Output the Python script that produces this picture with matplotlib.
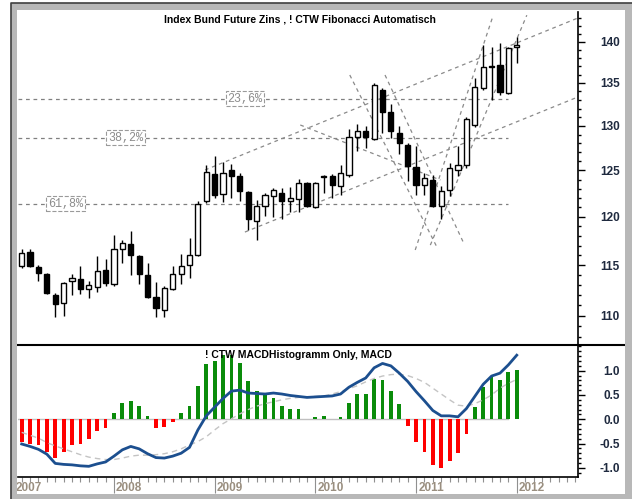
import numpy as np
import matplotlib
matplotlib.use("Agg")
import matplotlib.pyplot as plt
from matplotlib.patches import Rectangle
from matplotlib.lines import Line2D
from matplotlib.ticker import FixedLocator, FuncFormatter, NullFormatter
from matplotlib.transforms import blended_transform_factory

# monthly candles, Jan 2007 .. Dec 2011 (x = month number, candle drawn at month end)
opens = [114.9, 116.3, 114.8, 114.1, 112.05, 111.2, 113.45, 113.6, 112.65, 112.8,
         114.5, 113.15, 116.7, 117.2, 115.9, 114.05, 111.85, 110.6, 112.65, 114.15,
         115.0, 116.0, 121.7, 124.65, 122.4, 125.0, 124.35, 122.65, 119.55, 121.1,
         122.2, 122.55, 121.7, 121.95, 123.6, 121.0, 124.4, 124.35, 123.35, 124.5,
         128.7, 129.45, 128.5, 134.15, 131.6, 129.2, 127.85, 125.35, 123.45, 124.0,
         121.1, 122.9, 125.1, 125.65, 130.1, 134.35, 136.9, 137.15, 133.8, 139.4]
highs = [116.6, 116.7, 115.05, 114.2, 112.2, 113.3, 114.15, 114.9, 113.45, 115.9,
         115.6, 118.05, 117.6, 118.55, 116.0, 115.2, 113.3, 112.95, 114.9, 116.1,
         117.8, 121.7, 125.65, 126.6, 125.95, 125.7, 124.7, 122.8, 121.8, 122.55,
         123.1, 123.1, 123.15, 124.1, 123.7, 123.7, 124.5, 124.6, 125.55, 129.6,
         130.2, 130.0, 135.0, 134.45, 132.55, 130.0, 128.1, 127.75, 124.7, 124.5,
         123.25, 125.85, 127.75, 131.05, 135.55, 139.6, 139.4, 139.8, 139.4, 140.6]
lows = [114.75, 114.8, 113.45, 112.1, 109.85, 110.0, 112.0, 112.1, 111.7, 112.3,
        112.95, 112.95, 115.2, 114.0, 113.15, 111.7, 109.85, 109.85, 112.5, 113.1,
        113.75, 115.9, 121.45, 122.05, 121.55, 122.05, 121.7, 118.65, 117.6, 120.1,
        120.0, 119.8, 120.55, 120.55, 121.0, 120.9, 122.55, 122.05, 122.3, 124.25,
        127.15, 127.5, 128.4, 129.2, 128.65, 126.8, 123.8, 122.3, 122.35, 121.0,
        119.8, 122.2, 124.4, 125.25, 129.9, 134.2, 133.0, 133.55, 133.7, 137.45]
closes = [116.25, 114.9, 114.25, 112.2, 111.15, 113.2, 113.7, 112.65, 113.0, 114.4,
          113.2, 116.6, 117.3, 116.0, 114.15, 111.85, 110.7, 112.75, 114.15, 114.9,
          116.0, 121.35, 124.8, 122.3, 124.7, 124.4, 122.8, 119.75, 121.1, 122.3,
          122.85, 121.65, 122.05, 123.6, 121.1, 123.6, 124.3, 123.45, 124.7, 128.75,
          129.45, 128.75, 134.7, 131.6, 129.45, 128.0, 125.45, 123.45, 124.15, 121.1,
          122.8, 125.25, 125.55, 130.8, 134.5, 136.95, 137.0, 133.95, 139.2, 139.6]

macd_hist = [-0.46, -0.52, -0.53, -0.68, -0.79, -0.67, -0.53, -0.50, -0.41, -0.24,
             -0.17, 0.12, 0.33, 0.38, 0.28, 0.07, -0.17, -0.15, -0.05, 0.12,
             0.28, 0.69, 1.13, 1.20, 1.33, 1.33, 1.15, 0.78, 0.59, 0.50,
             0.43, 0.27, 0.21, 0.21, 0.0, 0.04, 0.06, 0.0, 0.05, 0.34,
             0.53, 0.53, 0.82, 0.80, 0.59, 0.31, -0.14, -0.46, -0.67, -0.94,
             -1.0, -0.85, -0.70, -0.31, 0.26, 0.67, 0.88, 0.80, 0.97, 1.02]
macd_line = [-0.51, -0.56, -0.62, -0.72, -0.91, -0.93, -0.94, -0.96, -0.97, -0.92,
             -0.88, -0.76, -0.63, -0.56, -0.61, -0.71, -0.79, -0.80, -0.76, -0.70,
             -0.58, -0.22, 0.07, 0.25, 0.43, 0.58, 0.60, 0.54, 0.53, 0.52,
             0.54, 0.52, 0.49, 0.47, 0.45, 0.46, 0.47, 0.48, 0.52, 0.66,
             0.76, 0.85, 1.06, 1.15, 1.10, 0.95, 0.78, 0.57, 0.38, 0.18,
             0.07, 0.07, 0.05, 0.22, 0.47, 0.72, 0.89, 0.95, 1.12, 1.32]
macd_signal = [-0.27, -0.33, -0.39, -0.48, -0.55, -0.61, -0.67, -0.73, -0.78, -0.81,
               -0.83, -0.83, -0.80, -0.76, -0.74, -0.74, -0.73, -0.71, -0.67, -0.61,
               -0.53, -0.46, -0.36, -0.22, -0.09, 0.01, 0.11, 0.20, 0.27, 0.32,
               0.36, 0.40, 0.43, 0.45, 0.46, 0.47, 0.48, 0.52, 0.57, 0.63,
               0.69, 0.77, 0.84, 0.89, 0.92, 0.93, 0.90, 0.84, 0.76, 0.64,
               0.52, 0.40, 0.29, 0.27, 0.32, 0.40, 0.50, 0.64, 0.74, 0.82]

years = ["2007", "2008", "2009", "2010", "2011", "2012"]
price_ticks = [110, 115, 120, 125, 130, 135, 140]
macd_ticks = [-1.0, -0.5, 0.0, 0.5, 1.0]

# fibonacci levels and trend lines (month, price)
fib_labels = ["23,6%", "38,2%", "61,8%"]
fib_levels = [133.15, 128.67, 121.4]
fib_label_x = [27.6, 13.4, 6.2]
trend_x0 = [22.85, 27.6, 40.1, 44.3, 34.2, 47.9, 49.7]
trend_y0 = [125.05, 118.4, 135.95, 135.95, 130.1, 116.55, 117.05]
trend_x1 = [67.3, 67.3, 50.6, 53.6, 50.9, 57.2, 61.2]
trend_y1 = [142.95, 133.35, 116.65, 117.4, 123.95, 143.3, 143.3]

W, H = 632, 499
fig = plt.figure(figsize=(W / 100, H / 100), dpi=100, facecolor="white")

def fx(px):
    return px / W

def fy(py):
    return 1 - py / H

x = np.arange(1, len(opens) + 1)
xmin, xmax = 0.56, 67.3

ax = fig.add_axes([fx(18), fy(345), fx(578) - fx(18), fy(12) - fy(345)])
ax2 = fig.add_axes([fx(18), fy(477), fx(578) - fx(18), fy(345) - fy(477)], sharex=ax)

# candles
o = np.array(opens); c = np.array(closes)
up = c >= o
ax.vlines(x, lows, highs, color="black", lw=1, zorder=3)
ax.bar(x[up], (c - o)[up], bottom=o[up], width=0.62, facecolor="white",
       edgecolor="black", lw=1, zorder=4)
ax.bar(x[~up], (o - c)[~up], bottom=c[~up], width=0.62, facecolor="black",
       edgecolor="black", lw=1, zorder=4)

dash = (0, (3, 3))
for lvl, lab, lx in zip(fib_levels, fib_labels, fib_label_x):
    ax.hlines(lvl, xmin, 59, colors="#808080", lw=0.9, linestyles=dash, zorder=2)
    ax.text(lx, lvl, lab, ha="center", va="center", fontsize=8.5,
            family=["Liberation Mono", "DejaVu Sans Mono"], color="#8c8c8c", zorder=5,
            bbox=dict(boxstyle="square,pad=0.15", fc="white", ec="#9a9a9a",
                      ls="--", lw=0.8))
for a0, b0, a1, b1 in zip(trend_x0, trend_y0, trend_x1, trend_y1):
    ax.plot([a0, a1], [b0, b1], color="#8a8a8a", lw=0.9, ls=dash, zorder=2)

ax.set_yscale("log")
ax.set_ylim(107.2, 143.7)
ax.set_xlim(xmin, xmax)
ax.yaxis.tick_right()
ax.yaxis.set_major_locator(FixedLocator(price_ticks))
ax.yaxis.set_minor_locator(FixedLocator(np.arange(108, 144)))
ax.yaxis.set_major_formatter(FuncFormatter(lambda v, p: "%d" % v))
ax.yaxis.set_minor_formatter(NullFormatter())

# macd panel
hist = np.array(macd_hist)
ax2.axhline(0, xmax=(59 - xmin) / (xmax - xmin), color="#c0c0c0", lw=1, zorder=1)
ax2.bar(x, hist, width=0.45, color=np.where(hist >= 0, "#0a8c0a", "#ff0000"), zorder=2)
ax2.plot(x, macd_signal, color="#c4c4c4", lw=1, ls=(0, (4, 3)), zorder=3)
ax2.plot(x, macd_line, color="#1c4f8f", lw=2, zorder=4)
ax2.set_ylim(-1.19, 1.53)
ax2.yaxis.tick_right()
ax2.yaxis.set_major_locator(FixedLocator(macd_ticks))
ax2.yaxis.set_minor_locator(FixedLocator(np.arange(-1.1, 1.55, 0.1)))
ax2.yaxis.set_major_formatter(FuncFormatter(lambda v, p: "%.1f" % v))
ax2.yaxis.set_minor_formatter(NullFormatter())

year_pos = np.arange(0, 61, 12)
ax2.xaxis.set_major_locator(FixedLocator(year_pos))
ax2.xaxis.set_minor_locator(FixedLocator(np.arange(0, 68)))
ax2.xaxis.set_major_formatter(NullFormatter())
ax2.tick_params(axis="x", which="major", length=11.5, width=0.8, color="#909090")
ax2.tick_params(axis="x", which="minor", length=3.5, width=0.8, color="#909090")
tr = blended_transform_factory(ax2.transData, ax2.transAxes)
for yp, yl in zip(year_pos, years):
    ax2.text(yp + 0.25, -0.085, yl, transform=tr, ha="left", va="center",
             fontsize=8.5, fontweight="bold", color="#9a8f80",
             family=["Liberation Sans", "DejaVu Sans"])

for a in (ax, ax2):
    a.set_facecolor("none")
    for s in ("left", "top"):
        a.spines[s].set_visible(False)
    a.spines["right"].set_linewidth(1.2)
    a.tick_params(axis="y", which="major", length=5, width=1, pad=25, labelsize=8.5,
                  labelcolor="#1f2a3f")
    a.tick_params(axis="y", which="minor", length=2.5, width=1)
    for lbl in a.get_yticklabels():
        lbl.set_ha("right")
        lbl.set_fontweight("bold")
        lbl.set_family(["Liberation Sans", "DejaVu Sans"])
ax.spines["bottom"].set_visible(False)
ax.tick_params(axis="x", which="both", bottom=False, labelbottom=False)
ax2.spines["bottom"].set_linewidth(1.2)

# titles
tfam = ["Liberation Sans Narrow", "Liberation Sans", "DejaVu Sans"]
fig.text(fx(300), fy(20), "Index Bund Future Zins , ! CTW Fibonacci Automatisch",
         ha="center", va="center", fontsize=7.5, fontweight="bold", family=tfam)
fig.text(fx(298), fy(355), "! CTW MACDHistogramm Only, MACD",
         ha="center", va="center", fontsize=7.5, fontweight="bold", family=tfam, zorder=6)

# panel separator
fig.add_artist(Line2D([fx(17), fx(625)], [fy(345), fy(345)], color="black", lw=1.5, zorder=6))

# outer grey frame
gray = "#b8b8b8"
for (x0, y0, x1, y1) in [(11, 3, 17, 499), (11, 3, 632, 10), (625, 3, 632, 499), (11, 494, 632, 499)]:
    fig.add_artist(Rectangle((fx(x0), fy(y1)), fx(x1) - fx(x0), fy(y0) - fy(y1),
                             transform=fig.transFigure, fc=gray, ec="none", zorder=8))
fig.add_artist(Line2D([fx(11), fx(11), fx(632)], [fy(499), fy(3), fy(3)],
                      color="#404040", lw=1.2, zorder=9))

fig.savefig("out.png", dpi=100, facecolor="white")
